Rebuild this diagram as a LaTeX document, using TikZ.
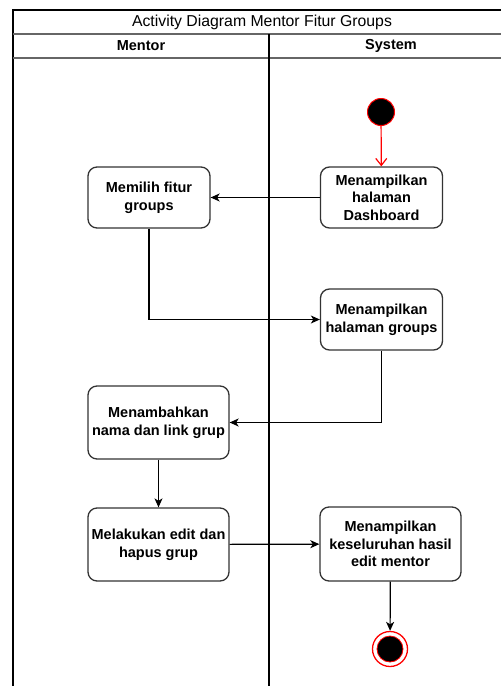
\documentclass[tikz,border=0pt]{standalone}
\usepackage{fontspec}
\setmainfont{Liberation Sans}
\usetikzlibrary{arrows.meta,positioning}
\definecolor{edge}{HTML}{333333}
\definecolor{startred}{HTML}{FF0000}
\tikzset{
  act/.style={draw=edge, line width=1.3pt, rounded corners=9pt, fill=white,
    align=center, font=\fontsize{14.5}{17.6}\selectfont\bfseries, inner sep=0pt},
  lane/.style={line width=1.2pt},
  sep/.style={draw=black!60, line width=1.3pt},
  flow/.style={draw=black, line width=1.2pt, -{Stealth[length=9pt,width=8pt,inset=2.5pt]}},
  hdr/.style={font=\fontsize{14.5}{17}\selectfont\bfseries, inner sep=0pt},
}
\begin{document}
\begin{tikzpicture}[x=1pt,y=-1pt]
\useasboundingbox (0,0) rectangle (501,686);
% pool frame and lanes
\draw[lane] (13,686) -- (13,10) -- (501,10);
\draw[sep] (13,34) -- (501,34);
\draw[sep] (13,58) -- (501,58);
\draw[lane] (269,34) -- (269,686);
\node[hdr, font=\fontsize{15.8}{18}\selectfont] (title) at (262,22) {Activity Diagram Mentor Fitur Groups};
\node[hdr] (lmentor) at (141,46) {Mentor};
\node[hdr] (lsystem) at (391,46) {System};
% activities
\node[act, minimum width=122pt, minimum height=61pt] (pilih) at (149,197.5) {Memilih fitur\\groups};
\node[act, minimum width=122pt, minimum height=61pt] (dash) at (381.5,197.5) {Menampilkan\\halaman\\Dashboard};
\node[act, minimum width=122pt, minimum height=61pt] (groups) at (381.5,319.5) {Menampilkan\\halaman groups};
\node[act, minimum width=141pt, minimum height=73pt] (tambah) at (158.5,422.5) {Menambahkan\\nama dan link grup};
\node[act, minimum width=141pt, minimum height=73pt] (edit) at (158.5,544.5) {Melakukan edit dan\\hapus grup};
\node[act, minimum width=141pt, minimum height=74pt] (hasil) at (390.5,544) {Menampilkan\\keseluruhan hasil\\edit mentor};
% start and end
\node[circle, fill=black, draw=startred, line width=1pt, minimum size=27pt, inner sep=0pt] (start) at (381,112) {};
\node[circle, draw=startred, line width=1.3pt, fill=white, minimum size=35pt, inner sep=0pt] (fin) at (390,649) {};
\node[circle, fill=black, draw=startred, line width=0.8pt, minimum size=26pt, inner sep=0pt] (fincore) at (fin.center) {};
% flows
\draw[startred, line width=1.2pt, -{Straight Barb[length=7pt,width=11pt]}] (start) -- (dash);
\draw[flow] (dash) -- (pilih);
\draw[flow] (pilih.south) |- (groups.west);
\draw[flow] (groups.south) |- (tambah.east);
\draw[flow] (tambah) -- (edit);
\draw[flow] (edit) -- (hasil);
\draw[flow] (hasil) -- (fin);
\end{tikzpicture}
\end{document}
